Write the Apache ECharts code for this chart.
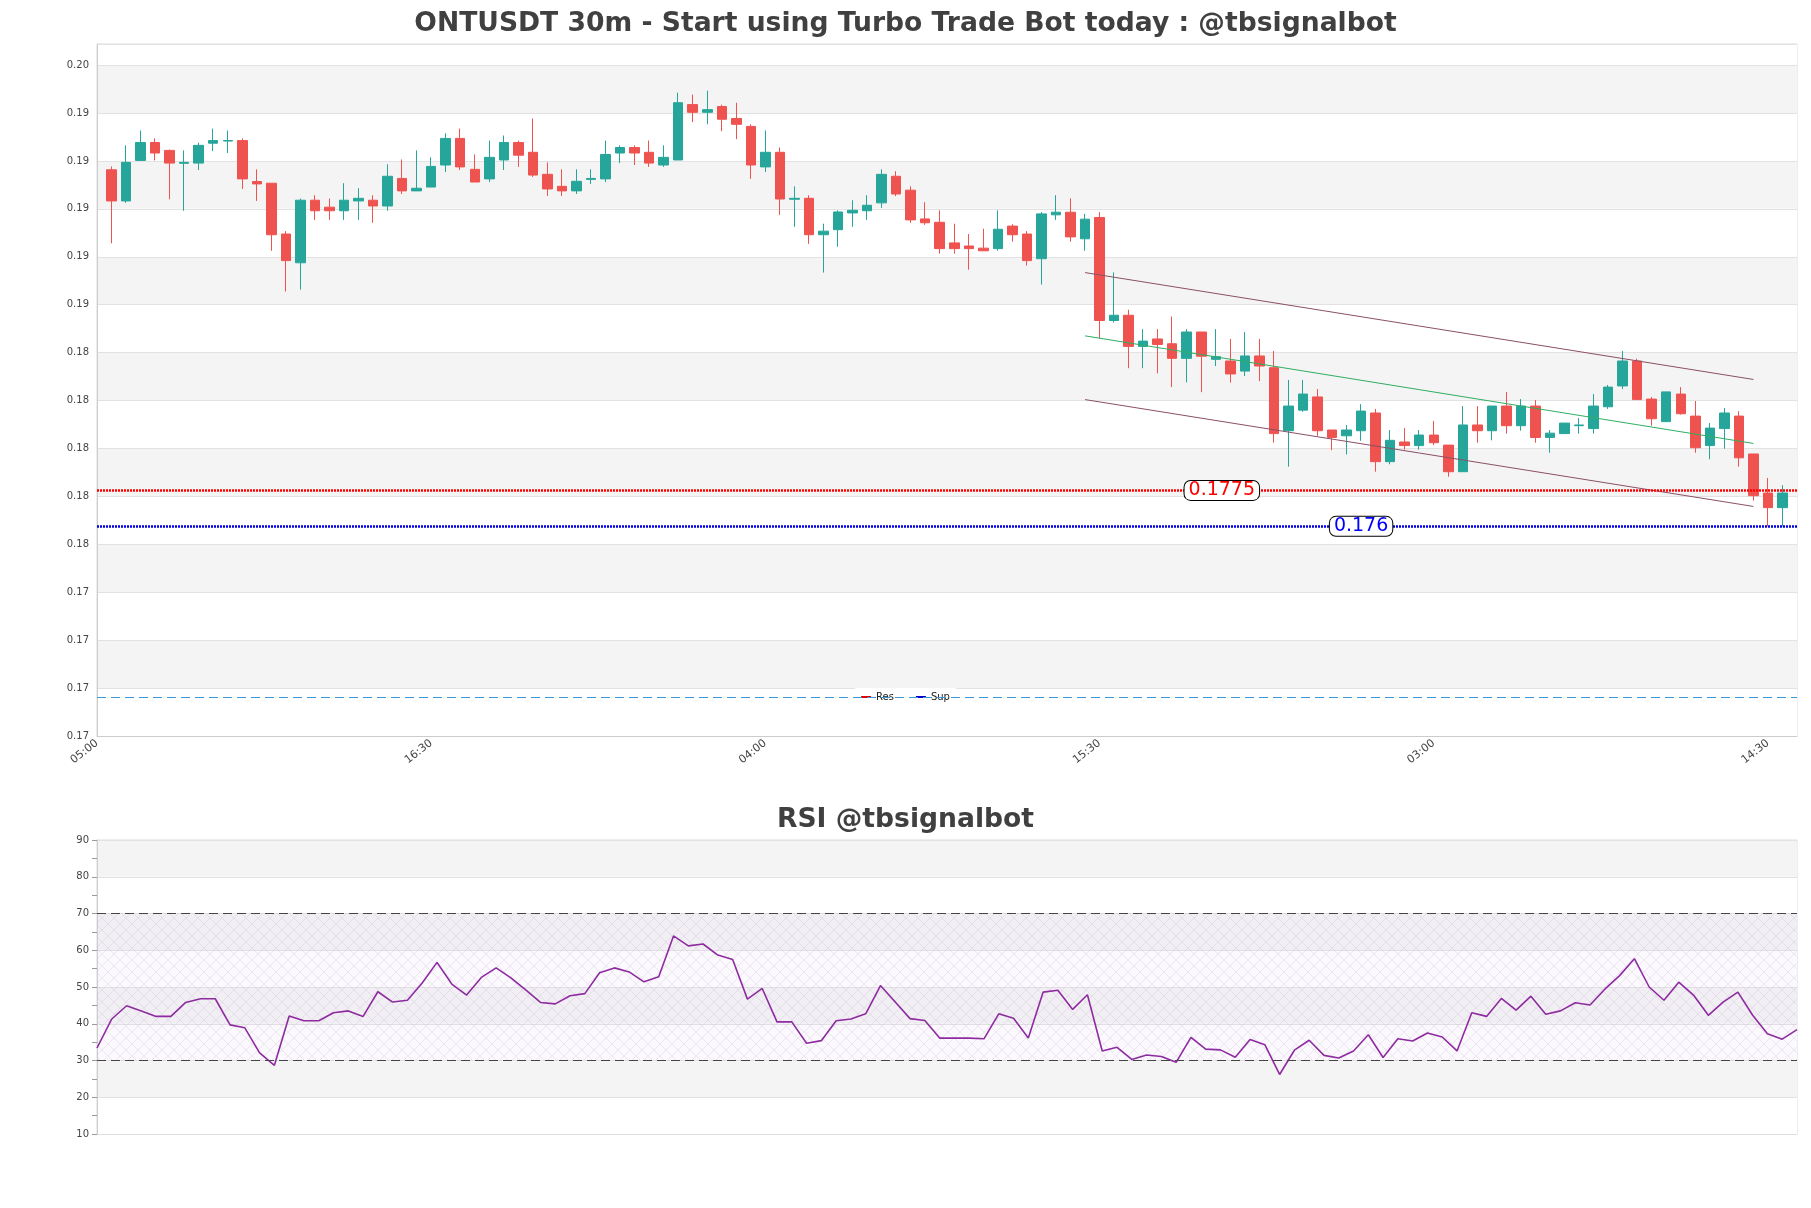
<!DOCTYPE html>
<html>
<head>
<meta charset="utf-8">
<script src="https://cdn.jsdelivr.net/npm/echarts@6/dist/echarts.min.js"></script>
<style>html,body{margin:0;padding:0;background:#fff}#c{width:1811px;height:1208px}</style>
</head>
<body>
<div id="c"></div>
<script>
const times = [
'05:00','05:30','06:00','06:30','07:00','07:30','08:00','08:30','09:00','09:30','10:00','10:30',
'11:00','11:30','12:00','12:30','13:00','13:30','14:00','14:30','15:00','15:30','16:00','16:30',
'17:00','17:30','18:00','18:30','19:00','19:30','20:00','20:30','21:00','21:30','22:00','22:30',
'23:00','23:30','00:00','00:30','01:00','01:30','02:00','02:30','03:00','03:30','04:00','04:30',
'05:00','05:30','06:00','06:30','07:00','07:30','08:00','08:30','09:00','09:30','10:00','10:30',
'11:00','11:30','12:00','12:30','13:00','13:30','14:00','14:30','15:00','15:30','16:00','16:30',
'17:00','17:30','18:00','18:30','19:00','19:30','20:00','20:30','21:00','21:30','22:00','22:30',
'23:00','23:30','00:00','00:30','01:00','01:30','02:00','02:30','03:00','03:30','04:00','04:30',
'05:00','05:30','06:00','06:30','07:00','07:30','08:00','08:30','09:00','09:30','10:00','10:30',
'11:00','11:30','12:00','12:30','13:00','13:30','14:00','14:30','15:00','15:30'];

const opens = [
0.19088,0.18958,0.19127,0.19202,0.19169,0.19115,0.19116,0.19199,0.19208,0.19210,
0.19039,0.19032,0.18820,0.18700,0.18961,0.18932,0.18917,0.18958,0.18961,0.18937,
0.19052,0.19000,0.19016,0.19108,0.19219,0.19090,0.19050,0.19129,0.19202,0.19161,
0.19069,0.19019,0.19000,0.19048,0.19050,0.19158,0.19181,0.19161,0.19108,0.19129,
0.19360,0.19328,0.19352,0.19302,0.19269,0.19100,0.19161,0.18965,0.18969,0.18817,
0.18838,0.18908,0.18917,0.18950,0.19061,0.19003,0.18883,0.18869,0.18783,0.18770,
0.18761,0.18759,0.18853,0.18820,0.18717,0.18900,0.18911,0.18800,0.18889,0.18459,
0.18481,0.18351,0.18382,0.18362,0.18301,0.18411,0.18297,0.18290,0.18248,0.18311,
0.18262,0.17999,0.18085,0.18140,0.18002,0.17978,0.17999,0.18073,0.17870,0.17952,
0.17937,0.17981,0.17939,0.17828,0.18023,0.17999,0.18102,0.18020,0.18102,0.17971,
0.17987,0.18020,0.18008,0.18099,0.18186,0.18290,0.18131,0.18037,0.18152,0.18060,
0.17937,0.18008,0.18060,0.17902,0.17739,0.17678];
const closes = [
0.18958,0.19119,0.19202,0.19158,0.19116,0.19119,0.19190,0.19210,0.19210,0.19050,
0.19029,0.18817,0.18709,0.18961,0.18917,0.18917,0.18961,0.18969,0.18937,0.19061,
0.19000,0.19011,0.19102,0.19219,0.19100,0.19037,0.19140,0.19202,0.19149,0.19066,
0.19008,0.19000,0.19040,0.19052,0.19152,0.19181,0.19158,0.19116,0.19140,0.19368,
0.19328,0.19339,0.19299,0.19278,0.19108,0.19161,0.18966,0.18969,0.18817,0.18832,
0.18912,0.18919,0.18940,0.19069,0.18987,0.18879,0.18867,0.18759,0.18759,0.18759,
0.18750,0.18840,0.18817,0.18709,0.18904,0.18911,0.18808,0.18882,0.18459,0.18481,
0.18351,0.18373,0.18359,0.18301,0.18411,0.18310,0.18308,0.18236,0.18311,0.18269,
0.17987,0.18102,0.18152,0.17999,0.17971,0.18002,0.18081,0.17870,0.17959,0.17937,
0.17981,0.17949,0.17828,0.18023,0.17999,0.18102,0.18020,0.18102,0.17971,0.17989,
0.18031,0.18023,0.18102,0.18181,0.18290,0.18129,0.18049,0.18161,0.18070,0.17928,
0.18010,0.18073,0.17886,0.17728,0.17678,0.17739];
const lows = [
0.18781,0.18950,0.19127,0.19127,0.18965,0.18917,0.19087,0.19166,0.19158,0.19008,
0.18958,0.18750,0.18580,0.18588,0.18879,0.18879,0.18879,0.18879,0.18867,0.18917,
0.18987,0.19000,0.19016,0.19079,0.19087,0.19037,0.19037,0.19087,0.19100,0.19058,
0.18979,0.18979,0.18987,0.19029,0.19037,0.19116,0.19108,0.19100,0.19100,0.19129,
0.19287,0.19278,0.19249,0.19216,0.19050,0.19079,0.18900,0.18850,0.18779,0.18659,
0.18767,0.18850,0.18879,0.18929,0.18978,0.18867,0.18858,0.18738,0.18738,0.18671,
0.18750,0.18750,0.18788,0.18688,0.18609,0.18879,0.18788,0.18750,0.18384,0.18451,
0.18260,0.18260,0.18239,0.18181,0.18201,0.18160,0.18269,0.18200,0.18227,0.18206,
0.17949,0.17849,0.18078,0.17978,0.17918,0.17900,0.17957,0.17828,0.17859,0.17920,
0.17920,0.17939,0.17807,0.17828,0.17949,0.17959,0.17987,0.17999,0.17949,0.17907,
0.17987,0.17987,0.17987,0.18090,0.18173,0.18129,0.18020,0.18037,0.18066,0.17907,
0.17880,0.17924,0.17849,0.17707,0.17600,0.17600];
const highs = [
0.19102,0.19190,0.19252,0.19219,0.19172,0.19169,0.19201,0.19260,0.19252,0.19219,
0.19090,0.19032,0.18832,0.18968,0.18982,0.18968,0.19032,0.19011,0.18982,0.19111,
0.19131,0.19169,0.19140,0.19240,0.19260,0.19152,0.19210,0.19231,0.19210,0.19302,
0.19119,0.19090,0.19090,0.19090,0.19210,0.19190,0.19190,0.19210,0.19190,0.19410,
0.19402,0.19418,0.19360,0.19368,0.19278,0.19252,0.19181,0.19019,0.18982,0.18863,
0.18919,0.18961,0.18982,0.19090,0.19082,0.19019,0.18953,0.18919,0.18863,0.18820,
0.18842,0.18919,0.18861,0.18832,0.18912,0.18982,0.18969,0.18904,0.18911,0.18660,
0.18504,0.18423,0.18423,0.18476,0.18423,0.18411,0.18423,0.18382,0.18411,0.18382,
0.18332,0.18211,0.18211,0.18173,0.18002,0.18023,0.18110,0.18090,0.18002,0.18010,
0.18002,0.18040,0.17939,0.18102,0.18102,0.18102,0.18161,0.18131,0.18127,0.18002,
0.18031,0.18052,0.18152,0.18190,0.18332,0.18300,0.18140,0.18161,0.18181,0.18123,
0.18031,0.18094,0.18081,0.17902,0.17802,0.17772];

const rsi = [
33.4,41.3,44.9,43.5,42.0,42.0,45.8,46.8,46.8,39.7,38.9,32.1,28.7,42.1,40.8,40.8,43.0,43.5,42.0,48.7,
45.9,46.4,51.1,56.7,50.8,47.8,52.6,55.2,52.5,49.2,45.8,45.4,47.6,48.2,53.9,55.2,54.1,51.4,52.8,63.9,
61.2,61.7,58.7,57.5,46.7,49.6,40.5,40.5,34.7,35.4,40.8,41.3,42.7,50.4,45.9,41.4,40.9,36.1,36.1,36.1,
35.9,42.7,41.5,36.1,48.6,49.1,43.9,47.9,32.6,33.6,30.3,31.5,31.1,29.5,36.3,33.1,32.9,30.9,35.7,34.3,
26.2,32.8,35.5,31.4,30.7,32.6,37.0,30.8,35.9,35.3,37.5,36.4,32.6,43.0,42.0,46.9,43.7,47.5,42.6,43.5,
45.7,45.1,49.4,53.1,57.7,50.0,46.4,51.3,47.8,42.3,45.9,48.6,42.3,37.3,35.8,38.4];

const resLevel = 0.1775;
const supLevel = 0.176;
const dashLevel = 0.16888;
const channelUpper = [[68, 0.18659], [114, 0.18213]];
const channelMid = [[68, 0.18395], [114, 0.17946]];
const channelLower = [[68, 0.18129], [114, 0.17683]];
const rsiUpper = 70, rsiLower = 30;

const candleData = opens.map((o, k) => [k + 1, o, closes[k], lows[k], highs[k]]);

function makeHatch() {
  const c = document.createElement('canvas');
  c.width = 12; c.height = 12;
  const g = c.getContext('2d');
  g.fillStyle = 'rgba(225,205,235,0.12)';
  g.fillRect(0, 0, 12, 12);
  g.strokeStyle = 'rgba(170,150,185,0.28)';
  g.lineWidth = 0.7;
  g.beginPath();
  g.moveTo(0, 0); g.lineTo(12, 12);
  g.moveTo(12, 0); g.lineTo(0, 12);
  g.stroke();
  return c;
}

const chart = echarts.init(document.getElementById('c'), null, {renderer: 'canvas'});
const titleStyle = {fontSize: 26.6, fontWeight: 'bold', color: '#404040', fontFamily: 'DejaVu Sans'};
const boxLabel = {show: true, position: 'inside', fontSize: 19, lineHeight: 17,
  backgroundColor: '#fff', borderColor: '#000', borderWidth: 1, borderRadius: 6, padding: [1, 4]};
const option = {
  animation: false,
  textStyle: {fontFamily: 'DejaVu Sans'},
  title: [
    {text: 'ONTUSDT 30m - Start using Turbo Trade Bot today : @tbsignalbot', left: 'center', top: 11, padding: 0, textStyle: titleStyle},
    {text: 'RSI @tbsignalbot', left: 'center', top: 807, padding: 0, textStyle: titleStyle}
  ],
  legend: {
    data: ['Res', 'Sup'], left: 'center', top: 688, icon: 'rect', itemWidth: 10, itemHeight: 2, itemGap: 22,
    backgroundColor: '#fff', borderRadius: 4, padding: [4, 8],
    textStyle: {fontSize: 10, color: '#222'}
  },
  grid: [
    {left: 97, right: 14, top: 44, height: 692, show: true, borderColor: '#ddd', borderWidth: 1, backgroundColor: 'transparent'},
    {left: 97, right: 14, top: 840, height: 294, show: true, borderColor: '#ddd', borderWidth: 1, backgroundColor: 'transparent'}
  ],
  xAxis: [
    {type: 'category', gridIndex: 0, data: times, boundaryGap: false,
     axisLine: {lineStyle: {color: '#ccc'}}, axisTick: {show: false},
     axisLabel: {interval: 22, rotate: 38, fontSize: 11, color: '#444', margin: 6},
     splitLine: {show: false}},
    {type: 'category', gridIndex: 1, data: times.slice(1, 117), boundaryGap: false,
     axisLine: {lineStyle: {color: '#ddd'}}, axisTick: {show: false}, axisLabel: {show: false},
     splitLine: {show: false}}
  ],
  yAxis: [
    {type: 'value', gridIndex: 0, min: 0.16725, max: 0.19613, interval: 0.002, scale: true,
     axisLine: {show: true, lineStyle: {color: '#ccc'}}, axisTick: {show: false},
     axisLabel: {fontSize: 10, color: '#444', margin: 8, showMaxLabel: false, formatter: v => v.toFixed(2)},
     splitLine: {lineStyle: {color: '#e2e2e2'}},
     splitArea: {show: true, areaStyle: {color: ['#ffffff', '#f4f4f4']}}},
    {type: 'value', gridIndex: 1, min: 10, max: 90, interval: 10,
     axisLine: {show: true, lineStyle: {color: '#ccc'}},
     axisTick: {show: true, length: 5, lineStyle: {color: '#999'}},
     minorTick: {show: true, splitNumber: 2, length: 5, lineStyle: {color: '#999'}},
     axisLabel: {fontSize: 10, color: '#444', margin: 8},
     splitLine: {lineStyle: {color: '#e2e2e2'}},
     splitArea: {show: true, areaStyle: {color: ['#ffffff', '#f4f4f4']}}}
  ],
  series: [
    {name: 'ONTUSDT', type: 'candlestick', xAxisIndex: 0, yAxisIndex: 0, data: candleData,
     encode: {x: 0, y: [1, 2, 3, 4]}, barWidth: 10,
     itemStyle: {color: '#26a69a', color0: '#ef5350', borderColor: '#26a69a', borderColor0: '#ef5350', borderWidth: 1},
     markLine: {silent: true, symbol: 'none', precision: 6, label: {show: false},
       data: [{yAxis: dashLevel}],
       lineStyle: {color: '#3a9ad9', type: [9, 5], width: 1.2}}},
    {name: 'upper', type: 'line', xAxisIndex: 0, yAxisIndex: 0, data: channelUpper, symbol: 'none',
     lineStyle: {color: '#8a5068', width: 1}, silent: true},
    {name: 'mid', type: 'line', xAxisIndex: 0, yAxisIndex: 0, data: channelMid, symbol: 'none',
     lineStyle: {color: '#2fae62', width: 1}, silent: true},
    {name: 'lower', type: 'line', xAxisIndex: 0, yAxisIndex: 0, data: channelLower, symbol: 'none',
     lineStyle: {color: '#8a5068', width: 1}, silent: true},
    {name: 'Res', type: 'line', xAxisIndex: 0, yAxisIndex: 0, data: [], symbol: 'none',
     itemStyle: {color: '#e00000'}, lineStyle: {color: '#e00000'},
     markLine: {silent: true, symbol: 'none', precision: 6, label: {show: false}, data: [{yAxis: resLevel}],
       lineStyle: {color: '#ff0000', type: [2, 1], width: 2.5}},
     markPoint: {silent: true, precision: 6, data: [{coord: [77, resLevel], symbol: 'circle', symbolSize: 1,
       itemStyle: {color: 'rgba(0,0,0,0)'},
       label: Object.assign({}, boxLabel, {offset: [6, 0], formatter: '0.1775', color: '#ff0000'})}]}},
    {name: 'Sup', type: 'line', xAxisIndex: 0, yAxisIndex: 0, data: [], symbol: 'none',
     itemStyle: {color: '#0000c8'}, lineStyle: {color: '#0000c8'},
     markLine: {silent: true, symbol: 'none', precision: 6, label: {show: false}, data: [{yAxis: supLevel}],
       lineStyle: {color: '#0000dd', type: [2, 1], width: 2.5}},
     markPoint: {silent: true, precision: 6, data: [{coord: [87, supLevel], symbol: 'circle', symbolSize: 1,
       itemStyle: {color: 'rgba(0,0,0,0)'},
       label: Object.assign({}, boxLabel, {formatter: '0.176', color: '#0000ff'})}]}},
    {name: 'RSI', type: 'line', xAxisIndex: 1, yAxisIndex: 1, data: rsi, symbol: 'none',
     lineStyle: {color: '#8e2ba0', width: 1.6}, itemStyle: {color: '#8e2ba0'},
     markLine: {silent: true, symbol: 'none', label: {show: false},
       data: [{yAxis: rsiUpper}, {yAxis: rsiLower}],
       lineStyle: {color: '#444', type: [9, 5], width: 1.2}},
     markArea: {silent: true, data: [[{yAxis: rsiLower}, {yAxis: rsiUpper}]],
       itemStyle: {color: {image: makeHatch(), repeat: 'repeat'}}}}
  ]
};
chart.setOption(option);
</script>
</body>
</html>
